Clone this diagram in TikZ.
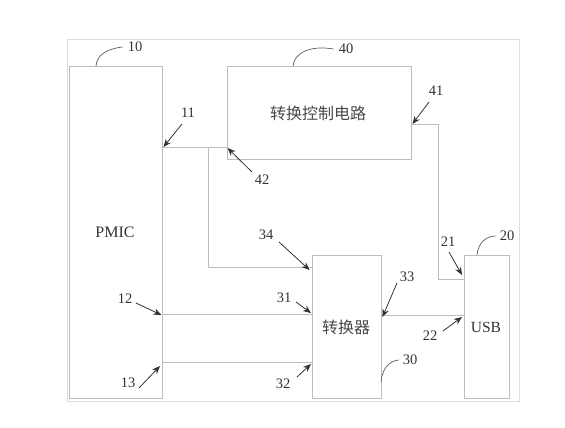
\documentclass[tikz,border=0pt]{standalone}
\usepackage{fontspec}
\setmainfont{Liberation Serif}
\newfontfamily\cjk{Noto Sans CJK SC}
\usetikzlibrary{arrows.meta}
\definecolor{linegray}{HTML}{BDBDBD}
\definecolor{framegray}{HTML}{DDDDDD}
\definecolor{txtgray}{HTML}{333333}
\tikzset{
  box/.style={draw=linegray, line width=0.9bp, inner sep=0pt},
  wire/.style={draw=linegray, line width=0.9bp},
  ptr/.style={draw=txtgray, line width=0.8bp, -{Stealth[length=8bp,width=6.5bp]}},
  lead/.style={draw=txtgray!80, line width=0.7bp},
  lbl/.style={font=\fontsize{14.5bp}{16bp}\selectfont, text=txtgray, inner sep=0pt},
  cn/.style={font=\cjk\fontsize{16bp}{18bp}\selectfont, text=txtgray!90, inner sep=0pt},
  en/.style={font=\fontsize{16bp}{18bp}\selectfont, text=txtgray, inner sep=0pt}
}
\begin{document}
\begin{tikzpicture}[x=1bp,y=-1bp]
\useasboundingbox (0,0) rectangle (565,427);
\draw[framegray, line width=0.8bp] (67,39) rectangle (519,401);
% boxes
\node[box, minimum width=93bp, minimum height=332bp] (pmic) at (115.5,232) {};
\node[box, minimum width=184bp, minimum height=93bp] (ctrl) at (319,112.5) {};
\node[box, minimum width=69bp, minimum height=143bp] (conv) at (346.5,326.5) {};
\node[box, minimum width=45bp, minimum height=143bp] (usb) at (486.5,326.5) {};
\node[en] (pmict) at (115,232) {PMIC};
\node[cn] (ctrlt) at (318,113) {转换控制电路};
\node[cn] (convt) at (346,327) {转换器};
\node[en, font=\fontsize{15.5bp}{17bp}\selectfont] (usbt) at (486,327) {USB};
% connection points
\coordinate (p11) at (pmic.east |- 0,147);
\coordinate (p42) at (ctrl.west |- 0,147);
\coordinate (j1) at (208,147);
\coordinate (j2) at (208,267);
\coordinate (p34) at (conv.west |- 0,267);
\coordinate (p12) at (pmic.east |- 0,314);
\coordinate (p31) at (conv.west |- 0,314);
\coordinate (p13) at (pmic.east |- 0,362);
\coordinate (p32) at (conv.west |- 0,362);
\coordinate (p33) at (conv.east |- 0,315);
\coordinate (p22) at (usb.west |- 0,315);
\coordinate (p41) at (ctrl.east |- 0,124);
\coordinate (j3) at (438,124);
\coordinate (j4) at (438,279);
\coordinate (p21) at (usb.west |- 0,279);
% wires
\draw[wire] (p11) -- (p42);
\draw[wire] (j1) -- (j2) -- (p34);
\draw[wire] (p12) -- (p31);
\draw[wire] (p13) -- (p32);
\draw[wire] (p33) -- (p22);
\draw[wire] (p41) -- (j3) -- (j4) -- (p21);
% labels with pointers
\node[lbl] (l11) at (188,113) {11};
\draw[ptr] (182,124) -- ([xshift=1bp]p11);
\node[lbl] (l42) at (262,180) {42};
\draw[ptr] (252,172) -- ([xshift=1bp,yshift=-1bp]p42);
\node[lbl] (l34) at (266,235) {34};
\draw[ptr] (279,242) -- ([xshift=-2bp,yshift=-3bp]p34);
\node[lbl] (l12) at (125,299) {12};
\draw[ptr] (136,303) -- ([xshift=-1bp,yshift=-1bp]p12);
\node[lbl] (l13) at (128,383) {13};
\draw[ptr] (139,388) -- (160,366);
\node[lbl] (l31) at (284,298) {31};
\draw[ptr] (296,302) -- (311,313);
\node[lbl] (l32) at (283,384) {32};
\draw[ptr] (297,377) -- (311,364);
\node[lbl] (l33) at (407,277) {33};
\draw[ptr] (397,283) -- ([xshift=1bp,yshift=-2bp]p33);
\node[lbl] (l22) at (430,336) {22};
\draw[ptr] (443,331) -- (462,317);
\node[lbl] (l41) at (436,91) {41};
\draw[ptr] (429,102) -- ([xshift=1bp]p41);
\node[lbl] (l21) at (448,242) {21};
\draw[ptr] (449,252) -- (462,275);
% reference labels with curved leaders
\node[lbl] (l10) at (135,47) {10};
\draw[lead] (96,66) .. controls (97,55) and (106,49) .. ([xshift=-5bp]l10.west);
\node[lbl] (l40) at (346,49) {40};
\draw[lead] (293,66) .. controls (294,53) and (310,45) .. ([xshift=-5bp]l40.west);
\node[lbl] (l20) at (507,236) {20};
\draw[lead] (477,255) .. controls (478,243) and (486,236) .. ([xshift=-4bp]l20.west);
\node[lbl] (l30) at (410,360) {30};
\draw[lead] (381,382) .. controls (382,369) and (389,361) .. ([xshift=-4bp]l30.west);
\end{tikzpicture}
\end{document}
